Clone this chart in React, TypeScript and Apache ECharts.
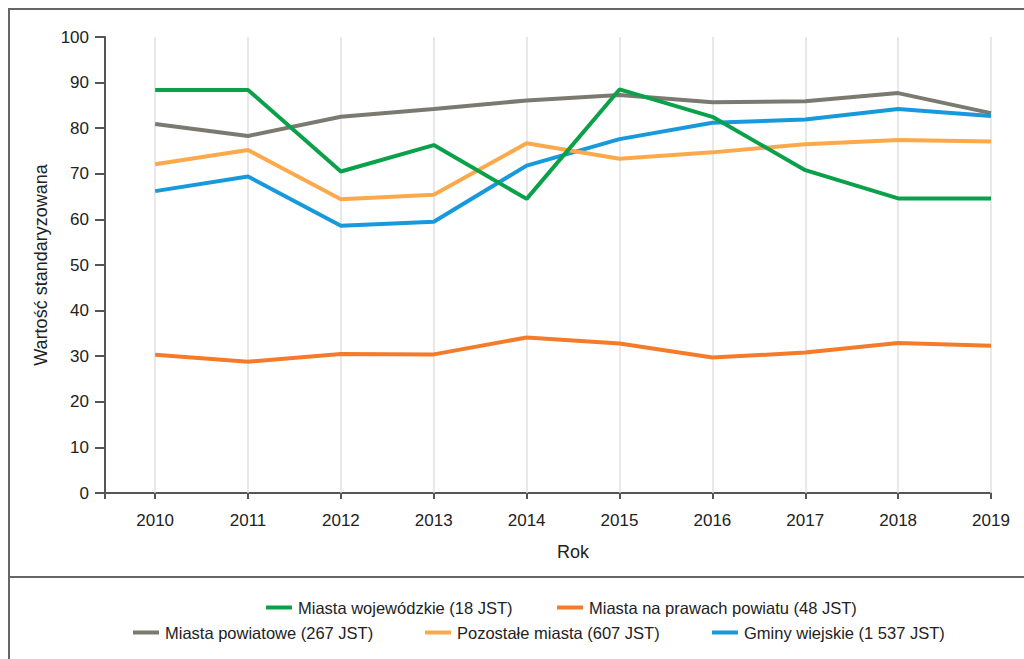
import React, { useEffect, useRef } from "react";
import * as echarts from "echarts";

const years = [2010, 2011, 2012, 2013, 2014, 2015, 2016, 2017, 2018, 2019];
const yTicks = [0, 10, 20, 30, 40, 50, 60, 70, 80, 90, 100];

const miastaWojewodzkie = [88.4, 88.4, 70.5, 76.3, 64.5, 88.5, 82.5, 70.8, 64.6, 64.6];
const miastaNaPrawachPowiatu = [30.3, 28.8, 30.5, 30.4, 34.1, 32.8, 29.7, 30.8, 32.9, 32.3];
const miastaPowiatowe = [80.9, 78.3, 82.5, 84.2, 86.1, 87.3, 85.7, 85.9, 87.7, 83.3];
const pozostaleMiasta = [72.1, 75.2, 64.4, 65.4, 76.7, 73.3, 74.7, 76.5, 77.4, 77.1];
const gminyWiejskie = [66.2, 69.4, 58.6, 59.5, 71.8, 77.6, 81.2, 81.9, 84.2, 82.7];

const names = [
  "Miasta wojewódzkie (18 JST)",
  "Miasta na prawach powiatu (48 JST)",
  "Miasta powiatowe (267 JST)",
  "Pozostałe miasta (607 JST)",
  "Gminy wiejskie (1 537 JST)",
];
const colors = ["#0BA14B", "#F47B2A", "#7B7A70", "#FBA94B", "#169ADB"];

const FONT = '"Liberation Sans", Arial, sans-serif';
const X_MIN = 2009.46;

export default function App() {
  const ref = useRef<HTMLDivElement>(null);
  useEffect(() => {
    if (!ref.current) return;
    const chart = echarts.init(ref.current, undefined, { renderer: "svg" });
    const pair = (vals: number[]) => years.map((y, i) => [y, vals[i]]);
    const seriesData = [
      miastaWojewodzkie,
      miastaNaPrawachPowiatu,
      miastaPowiatowe,
      pozostaleMiasta,
      gminyWiejskie,
    ];
    const drawOrder = [2, 4, 3, 1, 0];
    const series: any[] = drawOrder.map((idx, k) => ({
      name: names[idx],
      type: "line",
      data: pair(seriesData[idx]),
      showSymbol: false,
      symbol: "none",
      lineStyle: { color: colors[idx], width: 4 },
      itemStyle: { color: colors[idx] },
      z: 3 + k,
      ...(k === 0
        ? {
            markLine: {
              silent: true,
              symbol: "none",
              label: { show: false },
              lineStyle: { color: "#E0E0E0", width: 1.5, type: "solid" },
              data: years.map((y) => ({ xAxis: y })),
              z: 1,
            },
          }
        : {}),
    }));

    const legendPos = [
      { left: 266, top: 599 },
      { left: 557, top: 599 },
      { left: 133, top: 624 },
      { left: 425, top: 624 },
      { left: 712, top: 624 },
    ];
    const legends = names.map((n, i) => ({
      data: [n],
      left: legendPos[i].left,
      top: legendPos[i].top,
      icon: "rect",
      itemWidth: 26,
      itemHeight: 4,
      padding: 0,
      textStyle: { color: "#222", fontSize: 16.5, fontFamily: FONT, padding: [0, 0, 0, 1] },
    }));

    chart.setOption({
      animation: false,
      backgroundColor: "#ffffff",
      textStyle: { fontFamily: FONT },
      grid: { left: 105, right: 33, top: 37, bottom: 166, containLabel: false },
      xAxis: {
        type: "value",
        min: X_MIN,
        max: 2019,
        axisLine: { show: true, lineStyle: { color: "#555", width: 2 } },
        axisTick: {
          show: true,
          length: 6,
          inside: false,
          customValues: [X_MIN, ...years],
          lineStyle: { color: "#555", width: 2 },
        },
        axisLabel: {
          customValues: years,
          formatter: (v: number) => String(Math.round(v)),
          color: "#222",
          fontSize: 17,
          fontFamily: FONT,
          margin: 19,
        },
        splitLine: { show: false },
      },
      yAxis: {
        type: "value",
        min: 0,
        max: 100,
        interval: 10,
        name: "Wartość standaryzowana",
        nameLocation: "middle",
        nameGap: 48,
        nameTextStyle: { color: "#222", fontSize: 18, fontFamily: FONT },
        axisLine: { show: true, lineStyle: { color: "#555", width: 2 } },
        axisTick: { show: true, length: 10, inside: false, lineStyle: { color: "#555", width: 2 } },
        axisLabel: {
          color: "#222",
          fontSize: 17,
          fontFamily: FONT,
          margin: 16,
          customValues: yTicks,
        },
        splitLine: { show: false },
      },
      legend: legends,
      graphic: [
        {
          type: "rect",
          shape: { x: 9, y: 9, width: 1040, height: 700 },
          style: { fill: "none", stroke: "#666", lineWidth: 2 },
          silent: true,
          z: -1,
        },
        {
          type: "line",
          shape: { x1: 9, y1: 577, x2: 1024, y2: 577 },
          style: { stroke: "#666", lineWidth: 2 },
          silent: true,
        },
        {
          type: "text",
          x: 573,
          y: 552,
          style: {
            text: "Rok",
            fill: "#222",
            font: `18px ${FONT}`,
            align: "center",
            verticalAlign: "middle",
          },
          silent: true,
        },
      ],
      series,
    });
    return () => chart.dispose();
  }, []);
  return (
    <div
      ref={ref}
      style={{ position: "fixed", left: 0, top: 0, width: 1024, height: 659, background: "#fff" }}
    />
  );
}
